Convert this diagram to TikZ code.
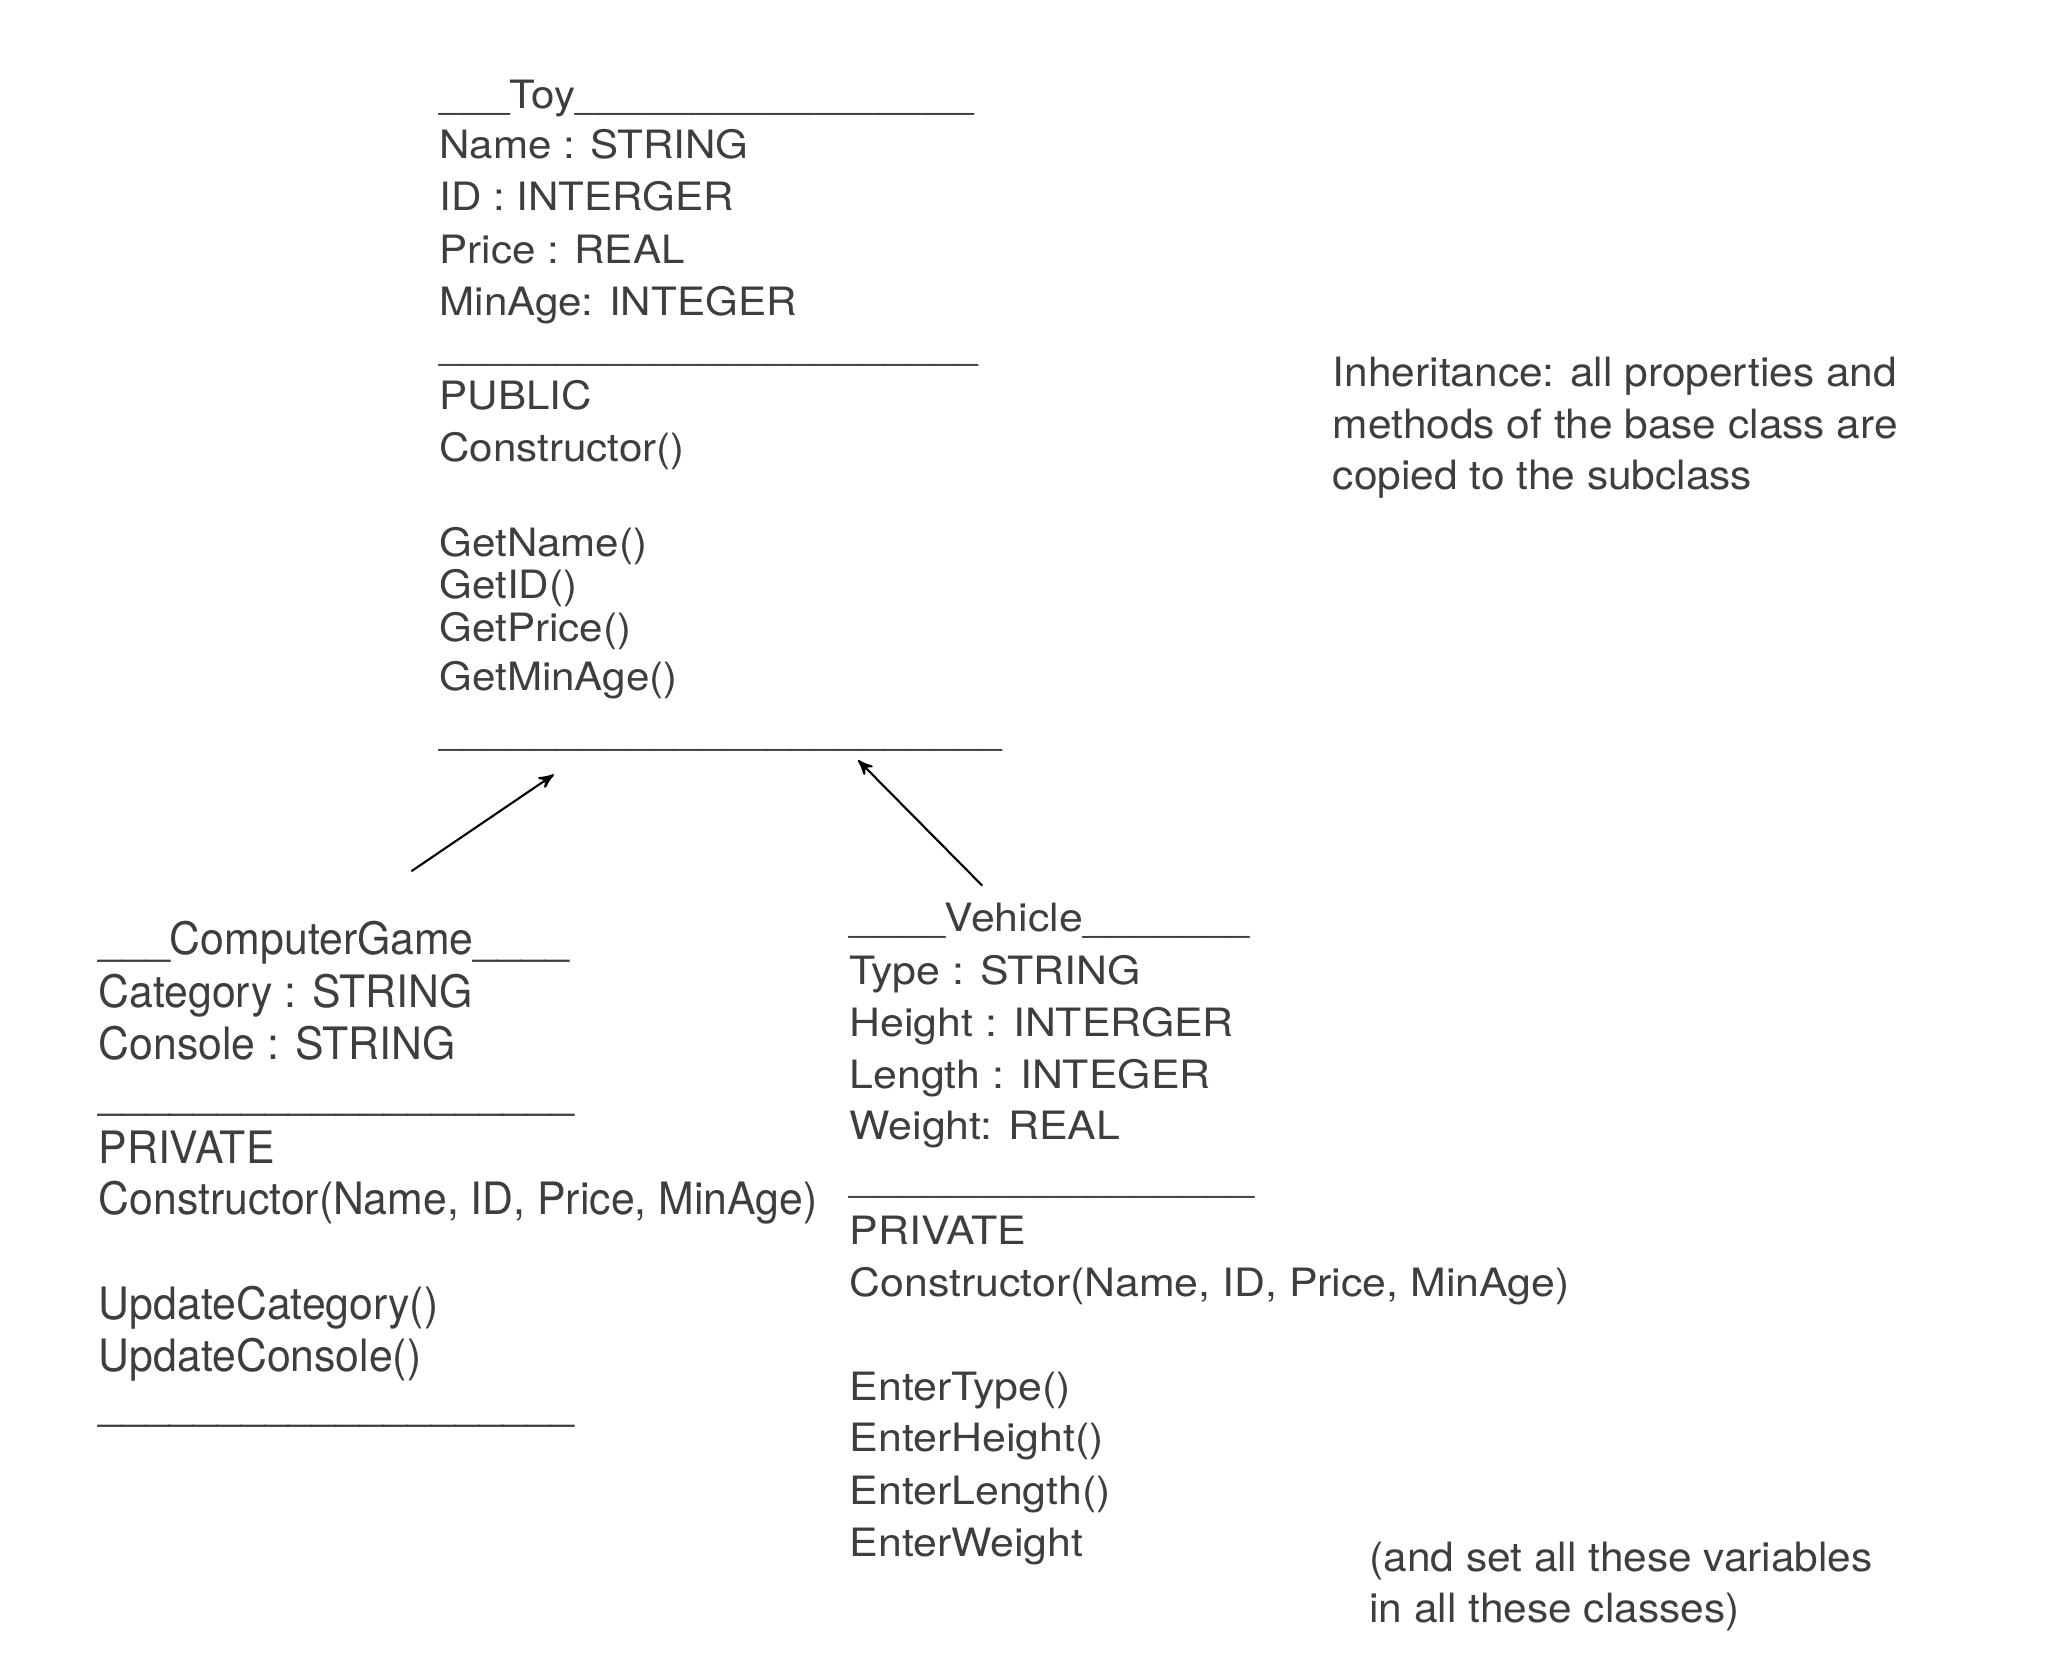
\documentclass[tikz,border=0pt]{standalone}
\usepackage{fontspec}
\usepackage{tikz}
\usetikzlibrary{arrows}

\newfontfamily\toyfont{TeX Gyre Heros}[FakeStretch=1.08]
\newfontfamily\gamefont{TeX Gyre Heros}[FakeStretch=0.958]
\newfontfamily\vehiclefont{TeX Gyre Heros}[FakeStretch=1.098]
\newfontfamily\notefont{TeX Gyre Heros}[FakeStretch=1.05]
\definecolor{inkgray}{RGB}{62,62,62}
\newcommand{\bars}[1]{\foreach \k in {1,...,#1}{\_}}

\begin{document}
\begin{tikzpicture}[x=0.013061cm,y=-0.013061cm,>=stealth',
  member/.style={anchor=base west,inner sep=0pt,text=inkgray},
  toy line/.style={member,font=\toyfont\fontsize{11.1}{13}\selectfont},
  game line/.style={member,font=\gamefont\fontsize{12.7}{15}\selectfont},
  vehicle line/.style={member,font=\vehiclefont\fontsize{11.1}{13}\selectfont},
  note line/.style={member,font=\notefont\fontsize{11.5}{14}\selectfont},
  inherit/.style={->,line width=0.6pt}]

  \useasboundingbox (0,0) rectangle (1568,1274);

  % base class
  \node[toy line] (toytitle) at (336,83) {\bars{3}Toy\bars{17}};
  \node[toy line] (toyname) at (336,121.5) {Name : STRING};
  \node[toy line] (toyid) at (336,161.5) {ID : INTERGER};
  \node[toy line] (toyprice) at (336,201.5) {Price : REAL};
  \node[toy line] (toyage) at (336,241.5) {MinAge: INTEGER};
  \node[toy line] (toyrule) at (336,275) {\bars{23}};
  \node[toy line] (toypublic) at (336,313.5) {PUBLIC};
  \node[toy line] (toyctor) at (336,353.5) {Constructor()};
  \node[toy line] (getname) at (336,426) {GetName()};
  \node[toy line] (getid) at (336,458) {GetID()};
  \node[toy line] (getprice) at (336,491) {GetPrice()};
  \node[toy line] (getage) at (336,529) {GetMinAge()};
  \node[toy line] (toyend) at (336,570) {\bars{24}};

  % subclass ComputerGame
  \node[game line] (gametitle) at (75,731) {\bars{3}ComputerGame\bars{4}};
  \node[game line] (category) at (75,771) {Category : STRING};
  \node[game line] (console) at (75,811) {Console : STRING};
  \node[game line] (gamerule) at (75,849) {\bars{20}};
  \node[game line] (gameprivate) at (75,891) {PRIVATE};
  \node[game line] (gamector) at (75,930) {Constructor(Name, ID, Price, MinAge)};
  \node[game line] (updcategory) at (75,1010) {UpdateCategory()};
  \node[game line] (updconsole) at (75,1050) {UpdateConsole()};
  \node[game line] (gameend) at (75,1087) {\bars{20}};

  % subclass Vehicle
  \node[vehicle line] (vehtitle) at (650,713.5) {\bars{4}Vehicle\bars{7}};
  \node[vehicle line] (vehtype) at (650,753.5) {Type : STRING};
  \node[vehicle line] (vehheight) at (650,793.5) {Height : INTERGER};
  \node[vehicle line] (vehlength) at (650,833.5) {Length : INTEGER};
  \node[vehicle line] (vehweight) at (650,872.5) {Weight: REAL};
  \node[vehicle line] (vehrule) at (650,912) {\bars{17}};
  \node[vehicle line] (vehprivate) at (650,952.5) {PRIVATE};
  \node[vehicle line] (vehctor) at (650,992.5) {Constructor(Name, ID, Price, MinAge)};
  \node[vehicle line] (entertype) at (650,1072.5) {EnterType()};
  \node[vehicle line] (enterheight) at (650,1111.5) {EnterHeight()};
  \node[vehicle line] (enterlength) at (650,1151.5) {EnterLength()};
  \node[vehicle line] (enterweight) at (650,1191.5) {EnterWeight};

  % notes
  \node[note line] (note1) at (1020,296) {Inheritance: all properties and};
  \node[note line] (note2) at (1020,336) {methods of the base class are};
  \node[note line] (note3) at (1020,375) {copied to the subclass};
  \node[note line] (note4) at (1048,1203) {(and set all these variables};
  \node[note line] (note5) at (1048,1242) {in all these classes)};

  % inheritance arrows
  \coordinate (gametail) at (315,667);
  \coordinate (gamehead) at (424,593);
  \coordinate (vehtail) at (752,678);
  \coordinate (vehhead) at (657,582);
  \draw[inherit] (gametail) -- (gamehead);
  \draw[inherit] (vehtail) -- (vehhead);
\end{tikzpicture}
\end{document}
